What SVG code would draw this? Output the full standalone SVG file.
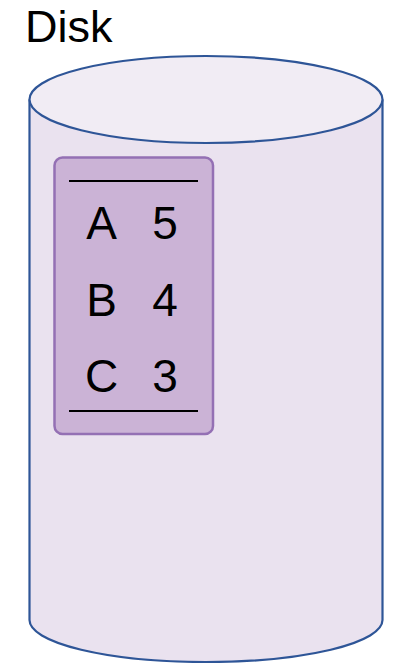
<svg xmlns="http://www.w3.org/2000/svg" width="395" height="663" viewBox="0 0 395 663">
<style>
.t{font-family:"Liberation Sans",Arial,sans-serif;font-weight:300;fill:#000}
.cyl{stroke:#2e5597;stroke-width:2.2}
</style>
<rect width="395" height="663" fill="#fff"/>
<text class="t" x="25" y="42" font-size="45">Disk</text>
<g id="disk">
<path class="cyl" d="M29.5,99.5 V620 A176.5,42 0 0 0 382.5,620 V99.5" fill="#eae2ef"/>
<ellipse class="cyl" cx="206" cy="99.5" rx="176.5" ry="43.5" fill="#f1ecf4"/>
</g>
<g id="table">
<rect x="54.5" y="157.5" width="158.5" height="276.5" rx="8" fill="#cbb3d6" stroke="#9470b4" stroke-width="2.5"/>
<line x1="69" y1="181" x2="198" y2="181" stroke="#000" stroke-width="2"/>
<line x1="69" y1="411" x2="198" y2="411" stroke="#000" stroke-width="2"/>
<text class="t" font-size="46" text-anchor="middle"><tspan x="101.5" y="239">A</tspan><tspan x="165" y="239">5</tspan></text>
<text class="t" font-size="46" text-anchor="middle"><tspan x="101.5" y="316">B</tspan><tspan x="165" y="316">4</tspan></text>
<text class="t" font-size="46" text-anchor="middle"><tspan x="101.5" y="392">C</tspan><tspan x="165" y="392">3</tspan></text>
</g>
</svg>
